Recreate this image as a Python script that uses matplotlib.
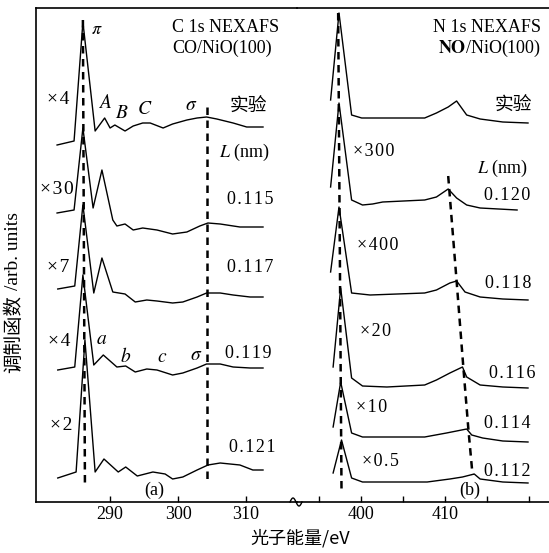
import matplotlib
matplotlib.use('Agg')
import matplotlib.pyplot as plt
from matplotlib.lines import Line2D
import numpy as np

plt.rcParams['font.family'] = ['Liberation Serif', 'Noto Sans CJK SC']
plt.rcParams['mathtext.fontset'] = 'stix'

# ---- C 1s NEXAFS, CO/NiO(100): (energy eV, intensity arb.) ----
c_exp_x = [282.2, 284.7, 286.0, 287.8, 289.2, 290.0, 290.7, 292.2, 293.4, 294.8, 295.9,
           297.8, 299.2, 301.3, 302.8, 304.2, 305.7, 308.1, 310.1, 312.5]
c_exp_y = [357, 361, 480, 371, 384, 374, 377, 371, 376, 379, 379,
           374, 378, 382, 384, 385, 383, 379, 375, 375]

c_115_x = [282.2, 284.7, 286.0, 287.5, 288.8, 290.4, 291.0, 292.2, 293.4, 294.8, 296.9,
           299.2, 301.3, 303.2, 304.4, 306.2, 309.1, 312.5]
c_115_y = [289, 292, 374, 294, 332, 282, 276, 278, 272, 274, 272,
           268, 270, 276, 279, 278, 275, 275]

c_117_x = [282.3, 284.8, 286.0, 287.6, 288.8, 290.4, 292.2, 293.7, 295.4, 296.9, 299.2,
           300.7, 302.8, 304.2, 306.2, 308.1, 310.6, 312.5]
c_117_y = [213, 216, 297, 209, 244, 210, 208, 200, 202, 201, 199,
           200, 205, 209, 209, 207, 205, 205]

c_119_x = [282.3, 284.8, 286.0, 287.6, 289.0, 291.0, 292.3, 293.7, 295.4, 296.9, 299.2,
           300.7, 302.8, 304.2, 306.2, 308.1, 310.6, 312.5]
c_119_y = [132, 135, 227, 137, 147, 135, 136, 130, 133, 132, 127,
           129, 134, 138, 138, 135, 134, 134]

c_121_x = [282.3, 285.0, 286.3, 287.8, 289.1, 291.2, 292.3, 294.0, 296.3, 298.1, 299.2,
           300.7, 302.8, 304.4, 306.2, 309.1, 311.0, 312.5]
c_121_y = [24, 30, 162, 30, 43, 30, 35, 26, 30, 28, 23,
           25, 32, 37, 39, 37, 32, 32]

c_pi_x = [286.0, 286.3]
c_pi_y = [482, 15]
c_sigma_x = [304.2, 304.2]
c_sigma_y = [395, 20]

# ---- N 1s NEXAFS, NO/NiO(100) ----
n_exp_x = [396.4, 397.4, 398.9, 400.1, 407.6, 409.0, 410.4, 411.4, 412.6, 414.2, 416.9, 419.9]
n_exp_y = [402, 489, 387, 384, 384, 389, 395, 401, 387, 383, 380, 379]

n_120_x = [396.4, 397.4, 398.9, 400.2, 401.4, 402.6, 407.6, 409.0, 410.4, 411.4, 412.6, 414.2, 418.6]
n_120_y = [315, 399, 302, 297, 298, 300, 302, 305, 313, 304, 297, 294, 292]

n_118_x = [396.4, 397.4, 398.9, 401.1, 407.6, 409.0, 410.6, 411.4, 412.4, 414.2, 416.9, 419.9]
n_118_y = [230, 295, 209, 207, 209, 212, 219, 221, 210, 205, 203, 202]

n_116_x = [396.7, 397.6, 398.9, 400.2, 403.1, 407.6, 409.0, 410.6, 412.1, 412.6, 414.2, 416.9, 419.9]
n_116_y = [135, 214, 124, 116, 115, 117, 122, 129, 135, 125, 117, 115, 114]

n_114_x = [396.7, 397.6, 398.9, 400.2, 407.6, 410.2, 412.6, 413.2, 414.5, 416.9, 419.9]
n_114_y = [75, 120, 69, 65, 65, 69, 73, 67, 64, 61, 60]

n_112_x = [396.7, 397.7, 398.9, 400.2, 407.9, 410.6, 412.1, 413.5, 414.2, 416.9, 419.9]
n_112_y = [29, 62, 24, 20, 20, 23, 25, 28, 23, 20, 19]

n_pi_x = [397.3, 397.7]
n_pi_y = [489, 10]
n_sigma_x = [410.4, 411.4, 412.2, 412.8, 413.3]
n_sigma_y = [326, 221, 135, 73, 27]

c_curves = [(c_exp_x, c_exp_y), (c_115_x, c_115_y), (c_117_x, c_117_y),
            (c_119_x, c_119_y), (c_121_x, c_121_y)]
n_curves = [(n_exp_x, n_exp_y), (n_120_x, n_120_y), (n_118_x, n_118_y),
            (n_116_x, n_116_y), (n_114_x, n_114_y), (n_112_x, n_112_y)]


def spaced(s):
    # wide character spacing like the printed figure
    return '\u200a'.join(s)


W, H = 549, 553
fig = plt.figure(figsize=(W / 100, H / 100), dpi=100)
bot, top = 502, 8
ax1 = fig.add_axes([36 / W, (H - bot) / H, (297 - 36) / W, (bot - top) / H])
ax2 = fig.add_axes([297 / W, (H - bot) / H, (W - 297) / W, (bot - top) / H])

ax1.set_xlim(279.1, 317.5)
ax2.set_xlim(392.4, 422.4)
for ax in (ax1, ax2):
    ax.set_ylim(0, 494)
    ax.set_yticks([])
    ax.spines['right'].set_visible(False)
    for s in ax.spines.values():
        s.set_linewidth(1.2)
    ax.tick_params(axis='x', direction='in', length=4, width=1, labelsize=13, pad=3)
    ax.patch.set_alpha(0)
ax2.spines['left'].set_visible(False)

ax1.set_xticks([290, 300, 310])
ax2.set_xticks([395, 400, 405, 410, 415, 420])
ax2.set_xticklabels(['', '400', '', '410', '', ''])

lw = 1.0
for x, y in c_curves:
    ax1.plot(x, y, color='black', lw=lw)
for x, y in n_curves:
    ax2.plot(x, y, color='black', lw=lw)

dash = dict(color='black', lw=1.8, linestyle=(0, (3, 2.2)))
ax1.plot(c_pi_x, c_pi_y, **dash)
ax1.plot(c_sigma_x, c_sigma_y, **dash)
ax2.plot(n_pi_x, n_pi_y, **dash)
ax2.plot(n_sigma_x, n_sigma_y, **dash)

fs = 13
cjk = ['Noto Sans CJK SC']
# left panel labels
ax1.text(288.1, 472, r'$\pi$', fontsize=fs, ha='center', va='center')
ax1.text(299.1, 474, 'C 1s NEXAFS', fontsize=13, ha='left', va='center')
ax1.text(299.2, 454, 'CO/NiO(100)', fontsize=13, ha='left', va='center')
for t, x, y in [('×4', 282.3, 402), ('×30', 282.2, 312), ('×7', 282.3, 235),
                ('×4', 282.5, 160), ('×2', 282.8, 77)]:
    ax1.text(x, y, spaced(t), fontsize=14, ha='center', va='center')
for t, x, y in [('A', 289.2, 399), ('B', 291.7, 388), ('C', 295.1, 392),
                (r'\sigma', 302.0, 396), ('a', 288.8, 162), ('b', 292.3, 145),
                ('c', 297.6, 145), (r'\sigma', 302.6, 146)]:
    ax1.text(x, y, '$' + t + '$', fontsize=fs + 1, ha='center', va='center')
ax1.text(310.4, 396, '实验', fontsize=13.5, family=cjk, ha='center', va='center')
ax1.text(309.8, 350, '$L$ (nm)', fontsize=fs, ha='center', va='center')
for t, x, y in [('0.115', 310.6, 302), ('0.117', 310.6, 234),
                ('0.119', 310.4, 149), ('0.121', 310.9, 54)]:
    ax1.text(x, y, spaced(t), fontsize=fs, ha='center', va='center')
ax1.text(296.5, 12, '(a)', fontsize=fs, ha='center', va='center')

# right panel labels
ax2.text(421.5, 475, 'N 1s NEXAFS', fontsize=13, ha='right', va='center')
ax2.text(421.5, 454, r'$\mathbf{NO}$/NiO(100)', fontsize=13, ha='right', va='center')
ax2.text(418.2, 397, '实验', fontsize=13.5, family=cjk, ha='center', va='center')
ax2.text(416.9, 334, '$L$ (nm)', fontsize=fs, ha='center', va='center')
for t, x, y in [('×300', 401.5, 350), ('×400', 402.0, 257), ('×20', 401.7, 170),
                ('×10', 401.3, 94), ('×0.5', 402.3, 40)]:
    ax2.text(x, y, spaced(t), fontsize=fs, ha='center', va='center')
for t, x, y in [('0.120', 417.4, 307), ('0.118', 417.6, 219), ('0.116', 418.0, 129),
                ('0.114', 417.4, 78), ('0.112', 417.4, 31)]:
    ax2.text(x, y, spaced(t), fontsize=fs, ha='center', va='center')
ax2.text(413.0, 12, '(b)', fontsize=fs, ha='center', va='center')

# axis break squiggle
t = np.linspace(0, 1, 40)
sx = (290 + 12 * t) / W
sy = (H - bot + 4 * np.sin(2 * np.pi * t)) / H
fig.add_artist(Line2D(sx, sy, color='black', lw=1.0, transform=fig.transFigure))

fig.text(300 / W, 1 - 538 / H, '光子能量/eV', fontsize=13, ha='center', va='center',
         family=['Noto Sans CJK SC', 'Liberation Serif'])
fig.text(14 / W, 1 - 334 / H, '调制函数', fontsize=14, rotation=90,
         ha='center', va='center', family=cjk)
fig.text(14 / W, 1 - 251 / H, '/arb. units', fontsize=14, rotation=90,
         ha='center', va='center')

fig.savefig('out.png', dpi=100)
